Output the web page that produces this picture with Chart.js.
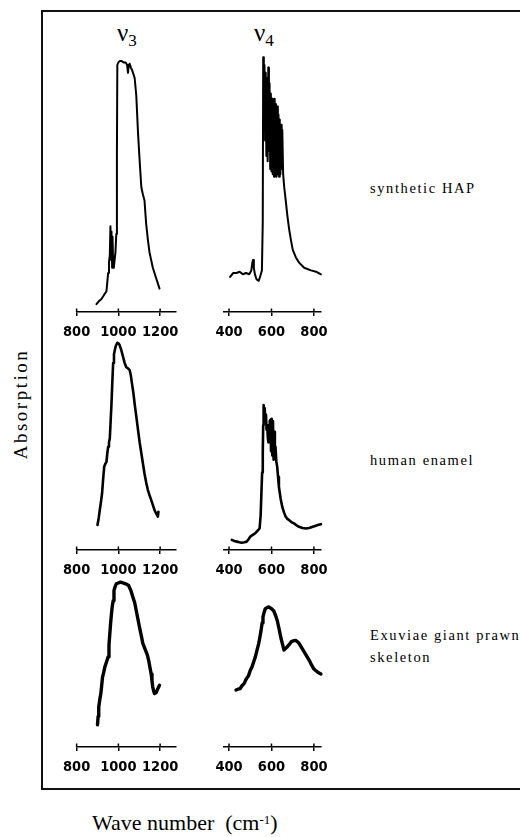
<!DOCTYPE html>
<html>
<head>
<meta charset="utf-8">
<script src="https://cdn.jsdelivr.net/npm/chart.js@4.4.0/dist/chart.umd.min.js"></script>
<style>
  body { margin: 0; width: 520px; height: 837px; background: #fff; position: relative; overflow: hidden; font-family: 'Liberation Serif', 'Times New Roman', serif; color: #000; }
  .frame { position: absolute; left: 41px; top: 10px; width: 600px; height: 780px; border: 2px solid #111; border-right: none; box-sizing: border-box; }
  canvas.panel { position: absolute; }
  .nu { position: absolute; font-size: 25px; line-height: 25px; white-space: nowrap; }
  .nu span { font-size: 17px; position: relative; top: 5px; }
  .lbl { position: absolute; left: 370px; font-size: 14.5px; line-height: 22px; letter-spacing: 1.6px; white-space: nowrap; }
  .ytitle { position: absolute; left: -44px; top: 392px; width: 130px; height: 24px; line-height: 24px; text-align: center; font-size: 19px; letter-spacing: 2.5px; transform: rotate(-90deg); }
  .xtitle { position: absolute; left: 92px; top: 812px; font-size: 22px; line-height: 22px; white-space: nowrap; }
  .xtitle sup { font-size: 13px; position: relative; top: -3px; vertical-align: top; }
</style>
</head>
<body>
<div class="frame"></div>

<div class="nu" style="left:117px; top:20px">ν<span>3</span></div>
<div class="nu" style="left:254px; top:20px">ν<span>4</span></div>

<div class="lbl" style="top:177px">synthetic HAP</div>
<div class="lbl" style="top:449px">human enamel</div>
<div class="lbl" style="top:624px">Exuviae giant prawn<br>skeleton</div>

<div class="ytitle">Absorption</div>
<div class="xtitle">Wave number&nbsp;&nbsp;(cm<sup>-1</sup>)</div>

<canvas id="hapV3" class="panel"></canvas>
<canvas id="hapV4" class="panel"></canvas>
<canvas id="enamelV3" class="panel"></canvas>
<canvas id="enamelV4" class="panel"></canvas>
<canvas id="prawnV3" class="panel"></canvas>
<canvas id="prawnV4" class="panel"></canvas>

<script>
// tick labels
const v3Ticks = [800, 1000, 1200];
const v4Ticks = [400, 600, 800];

// synthetic HAP
const hapV3Wn = [895, 905, 919, 935, 943, 951, 955, 959, 962, 965, 967, 970, 972, 975, 978, 982, 986, 990, 993, 995, 1000, 1006, 1015, 1025, 1035, 1042, 1046, 1050, 1054, 1060, 1066, 1072, 1078, 1086, 1094, 1102, 1110, 1118, 1125, 1133, 1141, 1149, 1157, 1165, 1173, 1181, 1189, 1197];
const hapV3Abs = [0.03, 0.04, 0.05, 0.07, 0.08, 0.15, 0.19, 0.22, 0.33, 0.20, 0.31, 0.17, 0.29, 0.18, 0.17, 0.20, 0.23, 0.30, 0.60, 0.95, 0.96, 0.965, 0.965, 0.96, 0.96, 0.95, 0.92, 0.95, 0.955, 0.94, 0.93, 0.915, 0.90, 0.83, 0.69, 0.58, 0.48, 0.45, 0.43, 0.34, 0.28, 0.23, 0.20, 0.17, 0.15, 0.13, 0.11, 0.09];
const hapV4Wn = [405, 420, 435, 450, 465, 480, 495, 505, 510, 513, 517, 522, 530, 540, 548, 555, 559, 561, 564, 567, 570, 573, 576, 579, 582, 585, 588, 591, 594, 597, 600, 603, 606, 609, 612, 615, 618, 621, 624, 627, 630, 633, 636, 639, 642, 645, 648, 651, 655, 660, 667, 675, 683, 691, 700, 715, 730, 754, 786, 810, 833];
const hapV4Abs = [0.135, 0.15, 0.15, 0.155, 0.145, 0.15, 0.145, 0.16, 0.19, 0.20, 0.17, 0.145, 0.125, 0.12, 0.14, 0.16, 0.35, 0.98, 0.72, 0.95, 0.66, 0.92, 0.60, 0.90, 0.58, 0.94, 0.62, 0.88, 0.55, 0.84, 0.54, 0.82, 0.53, 0.81, 0.52, 0.82, 0.53, 0.80, 0.52, 0.79, 0.53, 0.76, 0.52, 0.74, 0.53, 0.72, 0.55, 0.70, 0.53, 0.48, 0.43, 0.37, 0.32, 0.28, 0.24, 0.21, 0.19, 0.17, 0.16, 0.155, 0.145];

// human enamel
const enamelV3Wn = [900, 906, 911, 916, 922, 927, 932, 937, 943, 947, 951, 955, 959, 963, 967, 971, 975, 979, 983, 988, 995, 1001, 1006, 1014, 1022, 1030, 1038, 1046, 1054, 1060, 1065, 1072, 1078, 1086, 1094, 1102, 1110, 1118, 1125, 1133, 1141, 1149, 1157, 1165, 1173, 1181, 1189, 1192];
const enamelV3Abs = [0.116, 0.15, 0.186, 0.22, 0.264, 0.33, 0.387, 0.40, 0.41, 0.45, 0.48, 0.50, 0.52, 0.60, 0.68, 0.78, 0.87, 0.91, 0.93, 0.95, 0.964, 0.96, 0.953, 0.93, 0.90, 0.87, 0.85, 0.845, 0.837, 0.81, 0.775, 0.73, 0.68, 0.62, 0.56, 0.50, 0.45, 0.40, 0.356, 0.315, 0.28, 0.255, 0.233, 0.21, 0.186, 0.17, 0.155, 0.178];
const enamelV4Wn = [413, 425, 437, 449, 460, 472, 484, 492, 500, 512, 524, 535, 544, 549, 552, 556, 559, 561, 563, 566, 568, 571, 574, 577, 580, 583, 586, 589, 592, 595, 598, 601, 604, 607, 610, 613, 616, 619, 623, 627, 631, 635, 643, 651, 659, 667, 675, 682, 694, 706, 718, 730, 746, 762, 778, 794, 806, 818, 833];
const enamelV4Abs = [0.047, 0.042, 0.039, 0.036, 0.034, 0.036, 0.039, 0.05, 0.062, 0.07, 0.078, 0.09, 0.10, 0.16, 0.248, 0.36, 0.45, 0.58, 0.674, 0.62, 0.66, 0.60, 0.63, 0.56, 0.58, 0.52, 0.50, 0.58, 0.60, 0.605, 0.46, 0.61, 0.44, 0.60, 0.42, 0.55, 0.45, 0.48, 0.41, 0.387, 0.34, 0.294, 0.24, 0.20, 0.175, 0.155, 0.145, 0.14, 0.13, 0.124, 0.115, 0.108, 0.102, 0.10, 0.102, 0.108, 0.112, 0.116, 0.12];

// exuviae giant prawn skeleton
const prawnV3Wn = [900, 903, 906, 911, 916, 920, 924, 930, 935, 943, 951, 955, 959, 963, 967, 971, 975, 979, 985, 990, 1000, 1010, 1022, 1035, 1049, 1060, 1070, 1078, 1086, 1094, 1101, 1109, 1117, 1125, 1133, 1139, 1145, 1151, 1157, 1161, 1165, 1169, 1173, 1181, 1189, 1197];
const prawnV3Abs = [0.13, 0.18, 0.235, 0.28, 0.314, 0.36, 0.41, 0.44, 0.47, 0.50, 0.53, 0.60, 0.667, 0.73, 0.784, 0.83, 0.86, 0.92, 0.945, 0.96, 0.965, 0.97, 0.965, 0.96, 0.95, 0.92, 0.88, 0.85, 0.80, 0.75, 0.706, 0.66, 0.61, 0.585, 0.56, 0.54, 0.51, 0.47, 0.43, 0.39, 0.35, 0.33, 0.314, 0.32, 0.343, 0.363];
const prawnV4Wn = [433, 442, 452, 461, 471, 481, 492, 500, 508, 516, 524, 532, 540, 546, 551, 556, 560, 565, 571, 579, 587, 599, 611, 619, 627, 635, 643, 651, 659, 667, 675, 685, 694, 704, 714, 722, 730, 742, 754, 766, 778, 790, 799, 808, 818, 833];
const prawnV4Abs = [0.335, 0.34, 0.343, 0.36, 0.373, 0.40, 0.42, 0.45, 0.47, 0.50, 0.53, 0.57, 0.61, 0.65, 0.686, 0.73, 0.765, 0.79, 0.814, 0.82, 0.824, 0.815, 0.80, 0.775, 0.745, 0.70, 0.65, 0.61, 0.57, 0.58, 0.59, 0.605, 0.62, 0.625, 0.627, 0.62, 0.61, 0.585, 0.56, 0.535, 0.51, 0.48, 0.46, 0.45, 0.44, 0.43];

const tickFontSize = 14.5;
const tickPad = 8;
const tickLen = 4;
// height Chart.js gives the x axis: tick mark + label line + padding on both sides
const axisBand = tickLen + tickFontSize * 1.2 + tickPad * 2;

// little tick marks that poke up through the axis line
const crossTicks = {
  id: 'crossTicks',
  afterDraw(chart) {
    const xs = chart.scales.x;
    const ctx = chart.ctx;
    ctx.save();
    ctx.strokeStyle = '#000';
    ctx.lineWidth = 1.5;
    xs.ticks.forEach(t => {
      const px = xs.getPixelForValue(t.value);
      ctx.beginPath();
      ctx.moveTo(px, xs.top - 3.5);
      ctx.lineTo(px, xs.top);
      ctx.stroke();
    });
    ctx.restore();
  }
};

function drawPanel(id, wn, abs, band, row) {
  const canvas = document.getElementById(id);
  const isV3 = band === 3;
  const fullH = Math.ceil(row.h + axisBand);
  canvas.width = 140;
  canvas.height = fullH;
  canvas.style.left = (isV3 ? 55 : 200) + 'px';
  canvas.style.top = (row.axis - row.h) + 'px';
  const tickVals = isV3 ? v3Ticks : v4Ticks;
  const padBottom = fullH - row.h - axisBand;

  new Chart(canvas, {
    type: 'line',
    data: {
      datasets: [{
        data: wn.map((w, i) => ({ x: w, y: abs[i] })),
        borderColor: '#000',
        borderWidth: row.lw,
        borderJoinStyle: 'round',
        borderCapStyle: 'round',
        pointRadius: 0,
        tension: 0,
        clip: false
      }]
    },
    options: {
      responsive: false,
      animation: false,
      events: [],
      layout: { padding: isV3 ? { left: 20, right: 19, top: 0, bottom: padBottom } : { left: 23.5, right: 19.5, top: 0, bottom: padBottom } },
      plugins: { legend: { display: false }, tooltip: { enabled: false } },
      scales: {
        x: {
          type: 'linear',
          min: isV3 ? 800 : 374,
          max: isV3 ? 1276 : 831,
          afterBuildTicks: s => { s.ticks = tickVals.map(v => ({ value: v })); },
          ticks: {
            color: '#000',
            padding: tickPad,
            maxRotation: 0,
            autoSkip: false,
            font: { family: 'DejaVu Sans Condensed', weight: 'bold', size: tickFontSize },
            callback: v => String(v)
          },
          grid: { drawOnChartArea: false, tickLength: tickLen, color: '#000', lineWidth: 1.5 },
          border: { color: '#000', width: 1.5 }
        },
        y: { display: false, min: 0, max: 1 }
      }
    },
    plugins: [crossTicks]
  });
}

const rowHap = { axis: 312, h: 260, lw: 2 };
const rowEnamel = { axis: 550, h: 215, lw: 2.6 };
const rowPrawn = { axis: 747, h: 170, lw: 3.4 };

drawPanel('hapV3', hapV3Wn, hapV3Abs, 3, rowHap);
drawPanel('hapV4', hapV4Wn, hapV4Abs, 4, rowHap);
drawPanel('enamelV3', enamelV3Wn, enamelV3Abs, 3, rowEnamel);
drawPanel('enamelV4', enamelV4Wn, enamelV4Abs, 4, rowEnamel);
drawPanel('prawnV3', prawnV3Wn, prawnV3Abs, 3, rowPrawn);
drawPanel('prawnV4', prawnV4Wn, prawnV4Abs, 4, rowPrawn);
</script>
</body>
</html>
